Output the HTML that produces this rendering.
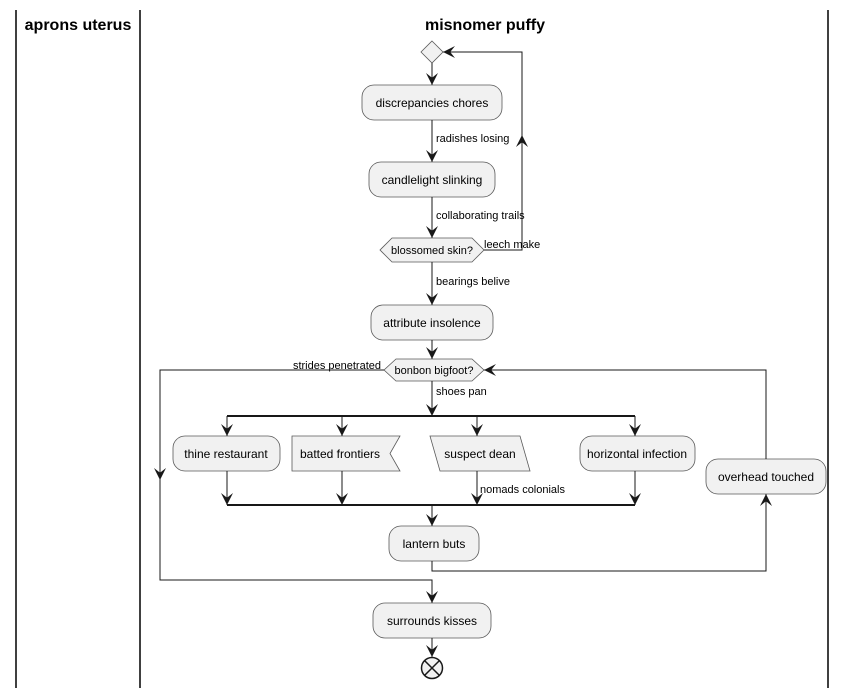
<!DOCTYPE html>
<html><head><style>body{margin:0;background:#fff}svg{display:block}</style></head><body>
<svg width="846" height="688" xmlns="http://www.w3.org/2000/svg" font-family="Liberation Sans, sans-serif" font-size="12">
<defs><marker id="a" viewBox="0 0 10 10" refX="10" refY="5" markerWidth="12" markerHeight="12" orient="auto" markerUnits="userSpaceOnUse"><path d="M0,0 L10,5 L0,10 L4,5 Z" fill="#181818"/></marker></defs>
<g stroke="#000" stroke-width="1.5"><line x1="16" y1="10" x2="16" y2="688"/><line x1="140" y1="10" x2="140" y2="688"/><line x1="828" y1="10" x2="828" y2="688"/></g>
<text x="78" y="30" font-size="16" font-weight="bold" text-anchor="middle">aprons uterus</text>
<text x="485" y="30" font-size="16" font-weight="bold" text-anchor="middle">misnomer puffy</text>
<g fill="#f1f1f1" stroke="#5a5a5a" stroke-width="0.8">
<polygon points="432,41 443,52 432,63 421,52"/>
<rect x="362" y="85" width="140" height="35" rx="12"/>
<rect x="369" y="162" width="126" height="35" rx="12"/>
<polygon points="392,238 472,238 484,250 472,262 392,262 380,250"/>
<rect x="371" y="305" width="122" height="35" rx="12"/>
<polygon points="396,359 472,359 484,370 472,381 396,381 384,370"/>
<rect x="173" y="436" width="107" height="35" rx="12"/>
<polygon points="292,436 400,436 390,453.5 400,471 292,471"/>
<polygon points="430,436 520,436 530,471 440,471"/>
<rect x="580" y="436" width="115" height="35" rx="12"/>
<rect x="706" y="459" width="120" height="35" rx="12"/>
<rect x="389" y="526" width="90" height="35" rx="12"/>
<rect x="373" y="603" width="118" height="35" rx="12"/>
</g>
<g stroke="#181818" stroke-width="1" fill="none">
<line x1="432" y1="63" x2="432" y2="85" marker-end="url(#a)"/>
<line x1="432" y1="120" x2="432" y2="162" marker-end="url(#a)"/>
<line x1="432" y1="197" x2="432" y2="238" marker-end="url(#a)"/>
<polyline points="484,250 522,250 522,52 443,52" marker-end="url(#a)"/>
<line x1="522" y1="250" x2="522" y2="135" marker-end="url(#a)"/>
<line x1="432" y1="262" x2="432" y2="305" marker-end="url(#a)"/>
<line x1="432" y1="340" x2="432" y2="359" marker-end="url(#a)"/>
<line x1="432" y1="381" x2="432" y2="416" marker-end="url(#a)"/>
<polyline points="384,370 160,370 160,580 432,580 432,603" marker-end="url(#a)"/>
<line x1="160" y1="370" x2="160" y2="480" marker-end="url(#a)"/>
<line x1="227" y1="416" x2="227" y2="436" marker-end="url(#a)"/>
<line x1="342" y1="416" x2="342" y2="436" marker-end="url(#a)"/>
<line x1="477" y1="416" x2="477" y2="436" marker-end="url(#a)"/>
<line x1="635" y1="416" x2="635" y2="436" marker-end="url(#a)"/>
<line x1="227" y1="471" x2="227" y2="505" marker-end="url(#a)"/>
<line x1="342" y1="471" x2="342" y2="505" marker-end="url(#a)"/>
<line x1="477" y1="471" x2="477" y2="505" marker-end="url(#a)"/>
<line x1="635" y1="471" x2="635" y2="505" marker-end="url(#a)"/>
<line x1="432" y1="505" x2="432" y2="526" marker-end="url(#a)"/>
<polyline points="432,561 432,571 766,571 766,494" marker-end="url(#a)"/>
<polyline points="766,459 766,370 484,370" marker-end="url(#a)"/>
<line x1="432" y1="638" x2="432" y2="657" marker-end="url(#a)"/>
</g>
<g stroke="#181818" stroke-width="2"><line x1="227" y1="416" x2="635" y2="416"/><line x1="227" y1="505" x2="635" y2="505"/></g>
<g fill="#f1f1f1" stroke="#181818" stroke-width="1.5"><circle cx="432" cy="668" r="10.5"/><path d="M424.6,660.6 L439.4,675.4 M439.4,660.6 L424.6,675.4" fill="none"/></g>
<g fill="#000">
<text x="432" y="107" text-anchor="middle">discrepancies chores</text>
<text x="432" y="184" text-anchor="middle">candlelight slinking</text>
<text x="432" y="254" text-anchor="middle" font-size="11">blossomed skin?</text>
<text x="432" y="327" text-anchor="middle">attribute insolence</text>
<text x="434" y="374" text-anchor="middle" font-size="11">bonbon bigfoot?</text>
<text x="226" y="458" text-anchor="middle">thine restaurant</text>
<text x="340" y="458" text-anchor="middle">batted frontiers</text>
<text x="480" y="458" text-anchor="middle">suspect dean</text>
<text x="637" y="458" text-anchor="middle">horizontal infection</text>
<text x="766" y="481" text-anchor="middle">overhead touched</text>
<text x="434" y="548" text-anchor="middle">lantern buts</text>
<text x="432" y="625" text-anchor="middle">surrounds kisses</text>
</g>
<g fill="#000" font-size="11">
<text x="436" y="142">radishes losing</text>
<text x="436" y="219">collaborating trails</text>
<text x="484" y="248">leech make</text>
<text x="436" y="285">bearings belive</text>
<text x="381" y="369" text-anchor="end">strides penetrated</text>
<text x="436" y="395">shoes pan</text>
<text x="480" y="493">nomads colonials</text>
</g>
</svg>
</body></html>
